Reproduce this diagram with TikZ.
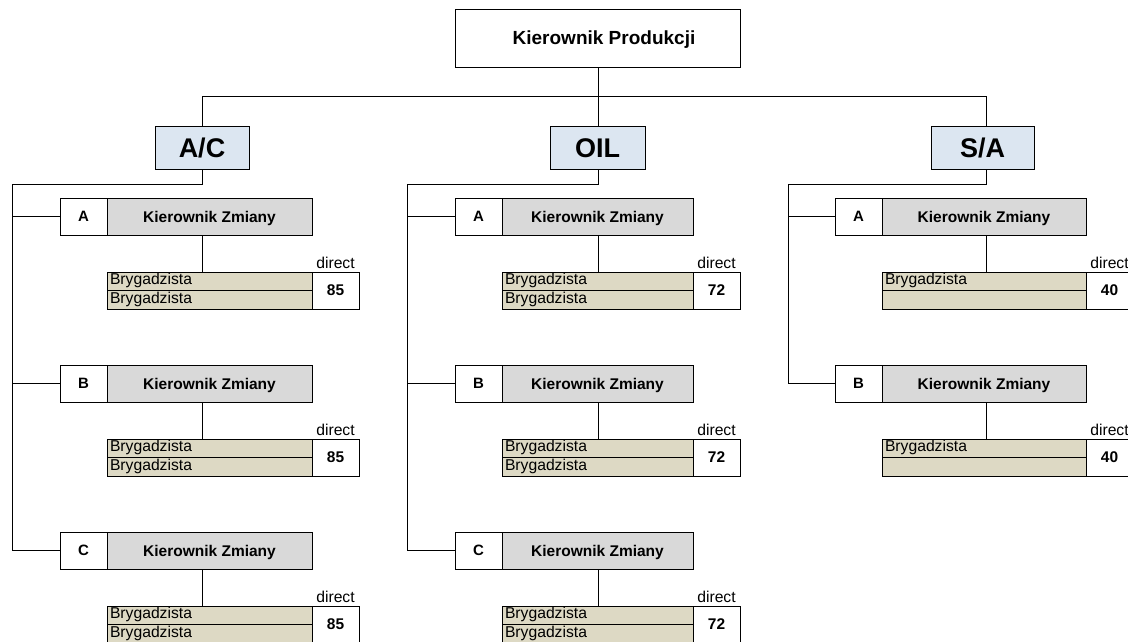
\documentclass[tikz,border=0pt]{standalone}
\usepackage{fontspec}
\setmainfont{Liberation Sans}
\definecolor{kzgray}{HTML}{D9D9D9}
\definecolor{brtan}{HTML}{DDD9C4}
\definecolor{hdblue}{HTML}{DCE6F1}
\tikzset{
  box/.style={draw=black, line width=1pt, inner sep=0pt, outer sep=0pt, anchor=north west},
  lbox/.style={box, fill=white, font=\fontsize{15}{18}\selectfont\bfseries},
  kzbox/.style={box, fill=kzgray, font=\fontsize{15.5}{18}\selectfont\bfseries, text height=11pt, text depth=0pt},
  brbox/.style={box, fill=brtan},
  numbox/.style={box, fill=white, font=\fontsize{15.5}{18}\selectfont\bfseries},
  txt/.style={inner sep=0pt, outer sep=0pt, font=\fontsize{15.7}{18}\selectfont},
  hdbox/.style={box, fill=hdblue, font=\fontsize{27}{30}\selectfont\bfseries, text height=19.3pt, text depth=0pt},
  conn/.style={draw=black, line width=1pt}
}
\newcommand\shiftunit[8]{%
  \node[lbox, minimum width=47pt, minimum height=37pt] (#1l) at (#3,#4) {#2};
  \node[kzbox, minimum width=#5pt, minimum height=37pt] (#1k) at (#1l.north east) {Kierownik Zmiany};
  \node[brbox, minimum width=#5pt, minimum height=18.5pt] (#1b) at ([yshift=-37pt]#1k.south west) {};
  \node[brbox, minimum width=#5pt, minimum height=18.5pt] (#1c) at (#1b.south west) {};
  \node[numbox, minimum width=47pt, minimum height=37pt] (#1n) at (#1b.north east) {#7};
  \node[txt, anchor=base west] (#1bt) at ([xshift=3pt,yshift=-12.5pt]#1b.north west) {Brygadzista};
  \node[txt, anchor=base west] (#1ct) at ([xshift=3pt,yshift=-12.5pt]#1c.north west) {#8};
  \node[txt, anchor=base] (#1d) at ([yshift=4pt]#1n.north) {direct};
  \draw[conn] (#1k.south -| #6) -- (#1b.north -| #6);
}
\begin{document}
\begin{tikzpicture}[x=1pt,y=-1pt]
\useasboundingbox (0,0) rectangle (1128,642);
\fill[white] (0,0) rectangle (1128,642);
\clip (0,0) rectangle (1128,642);
% column axes
\coordinate (acx) at (202,0);
\coordinate (oix) at (598,0);
\coordinate (sax) at (986,0);
\coordinate (bus) at (0,97);
\coordinate (acline) at (12,184);
\coordinate (oiline) at (407,184);
\coordinate (saline) at (788,184);
% top
\node[box, fill=white, minimum width=285pt, minimum height=58pt] (top) at (455,10) {};
\node[inner sep=0pt, anchor=base, font=\fontsize{19}{21}\selectfont\bfseries] (toptxt) at (604,45) {Kierownik Produkcji};
% headers
\node[hdbox, minimum width=94pt, minimum height=43pt] (ac) at (155,126) {A/C};
\node[hdbox, minimum width=95pt, minimum height=43pt] (oil) at (550,126) {OIL};
\node[hdbox, minimum width=103pt, minimum height=43pt] (sa) at (931,126) {S/A};
\draw[conn] (top.south -| oix) -- (oil.north -| oix);
\draw[conn] (ac.north -| acx) |- (bus -| oix);
\draw[conn] (sa.north -| sax) |- (bus -| oix);
% A/C
\shiftunit{acA}{A}{60}{198}{205}{acx}{85}{Brygadzista}
\shiftunit{acB}{B}{60}{365}{205}{acx}{85}{Brygadzista}
\shiftunit{acC}{C}{60}{532}{205}{acx}{85}{Brygadzista}
\draw[conn] (ac.south -| acx) |- (acline) |- (acCl.west);
\draw[conn] (acAl.west) -- (acAl.west -| acline);
\draw[conn] (acBl.west) -- (acBl.west -| acline);
% OIL
\shiftunit{oiA}{A}{455}{198}{191}{oix}{72}{Brygadzista}
\shiftunit{oiB}{B}{455}{365}{191}{oix}{72}{Brygadzista}
\shiftunit{oiC}{C}{455}{532}{191}{oix}{72}{Brygadzista}
\draw[conn] (oil.south -| oix) |- (oiline) |- (oiCl.west);
\draw[conn] (oiAl.west) -- (oiAl.west -| oiline);
\draw[conn] (oiBl.west) -- (oiBl.west -| oiline);
% S/A
\shiftunit{saA}{A}{835}{198}{204}{sax}{40}{}
\shiftunit{saB}{B}{835}{365}{204}{sax}{40}{}
\draw[conn] (sa.south -| sax) |- (saline) |- (saBl.west);
\draw[conn] (saAl.west) -- (saAl.west -| saline);
\end{tikzpicture}
\end{document}
